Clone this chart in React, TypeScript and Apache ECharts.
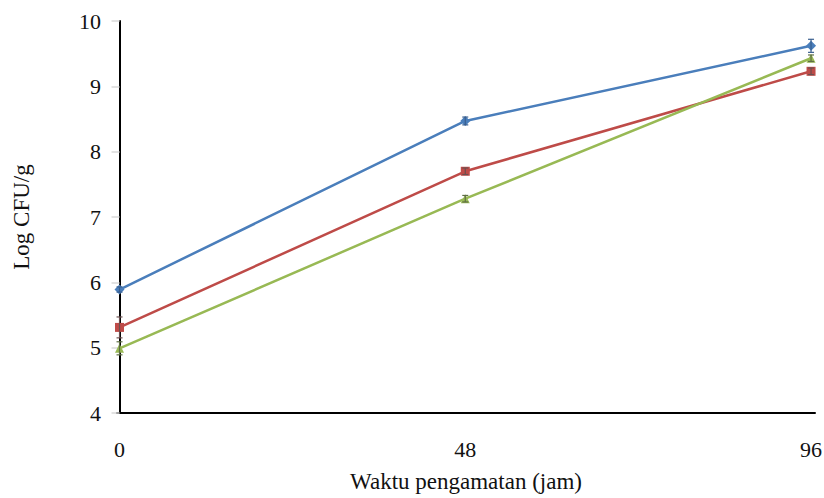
import React, { useEffect, useRef } from "react";
import * as echarts from "echarts";

const hours = [0, 48, 96];
const xTickLabels = [0, 48, 96];
const blueValues = [5.89, 8.47, 9.62];
const redValues = [5.31, 7.7, 9.23];
const greenValues = [4.99, 7.28, 9.43];
const blueErr = [0.04, 0.06, 0.1];
const redErr = [0.16, 0.05, 0.05];
const greenErr = [0.1, 0.05, 0.05];

const FONT = "'Liberation Serif', 'Times New Roman', serif";

function errorSeries(values: number[], errs: number[], color: string) {
  return {
    type: "custom",
    silent: true,
    z: 3,
    data: hours.map((h, i) => [h, values[i] - errs[i], values[i] + errs[i]]),
    renderItem: (params: any, api: any) => {
      const x = api.value(0);
      const lo = api.coord([x, api.value(1)]);
      const hi = api.coord([x, api.value(2)]);
      const w = 3;
      return {
        type: "group",
        children: [
          { type: "line", shape: { x1: lo[0], y1: lo[1], x2: hi[0], y2: hi[1] }, style: { stroke: color, lineWidth: 1.2 } },
          { type: "line", shape: { x1: lo[0] - w, y1: lo[1], x2: lo[0] + w, y2: lo[1] }, style: { stroke: color, lineWidth: 1.2 } },
          { type: "line", shape: { x1: hi[0] - w, y1: hi[1], x2: hi[0] + w, y2: hi[1] }, style: { stroke: color, lineWidth: 1.2 } },
        ],
      };
    },
  };
}

function lineSeries(name: string, values: number[], color: string, symbol: string, size: number) {
  return {
    name,
    type: "line",
    data: hours.map((h, i) => [h, values[i]]),
    symbol,
    symbolSize: size,
    showAllSymbol: true,
    lineStyle: { color, width: 2.5 },
    itemStyle: { color },
    z: 2,
  };
}

export default function App() {
  const ref = useRef<HTMLDivElement>(null);
  useEffect(() => {
    if (!ref.current) return;
    const chart = echarts.init(ref.current, null, { renderer: "svg" });
    chart.setOption({
      animation: false,
      backgroundColor: "#ffffff",
      grid: { left: 117, right: 9, top: 21, bottom: 85, outerBoundsMode: "none", containLabel: false },
      xAxis: {
        type: "value",
        min: -0.35,
        max: 96.55,
        name: "Waktu pengamatan (jam)",
        nameLocation: "middle",
        nameGap: 57,
        nameTextStyle: { fontFamily: FONT, fontSize: 23, color: "#111" },
        axisLine: { show: true, lineStyle: { color: "#000", width: 2 } },
        axisTick: { show: false },
        splitLine: { show: false },
        axisLabel: {
          customValues: xTickLabels,
          fontFamily: FONT,
          fontSize: 22,
          color: "#111",
          margin: 25,
        },
      },
      yAxis: {
        type: "value",
        min: 4,
        max: 10,
        interval: 1,
        name: "Log CFU/g",
        nameLocation: "middle",
        nameGap: 84,
        nameTextStyle: { fontFamily: FONT, fontSize: 23, color: "#111" },
        axisLine: { show: true, lineStyle: { color: "#000", width: 2 } },
        axisTick: { show: true, length: 8, lineStyle: { color: "#d9d9d9", width: 1.5 } },
        splitLine: { show: false },
        axisLabel: { fontFamily: FONT, fontSize: 22, color: "#111", margin: 16 },
      },
      series: [
        lineSeries("A", blueValues, "#4a7ebb", "diamond", 10),
        lineSeries("B", redValues, "#be4b48", "rect", 9),
        lineSeries("C", greenValues, "#98b954", "triangle", 9),
        errorSeries(blueValues, blueErr, "#3a5f8f"),
        errorSeries(redValues, redErr, "#6b5050"),
        errorSeries(greenValues, greenErr, "#5f6f45"),
      ],
    });
    return () => chart.dispose();
  }, []);
  return <div ref={ref} style={{ width: 824, height: 498, position: "absolute", left: 0, top: 0 }} />;
}
